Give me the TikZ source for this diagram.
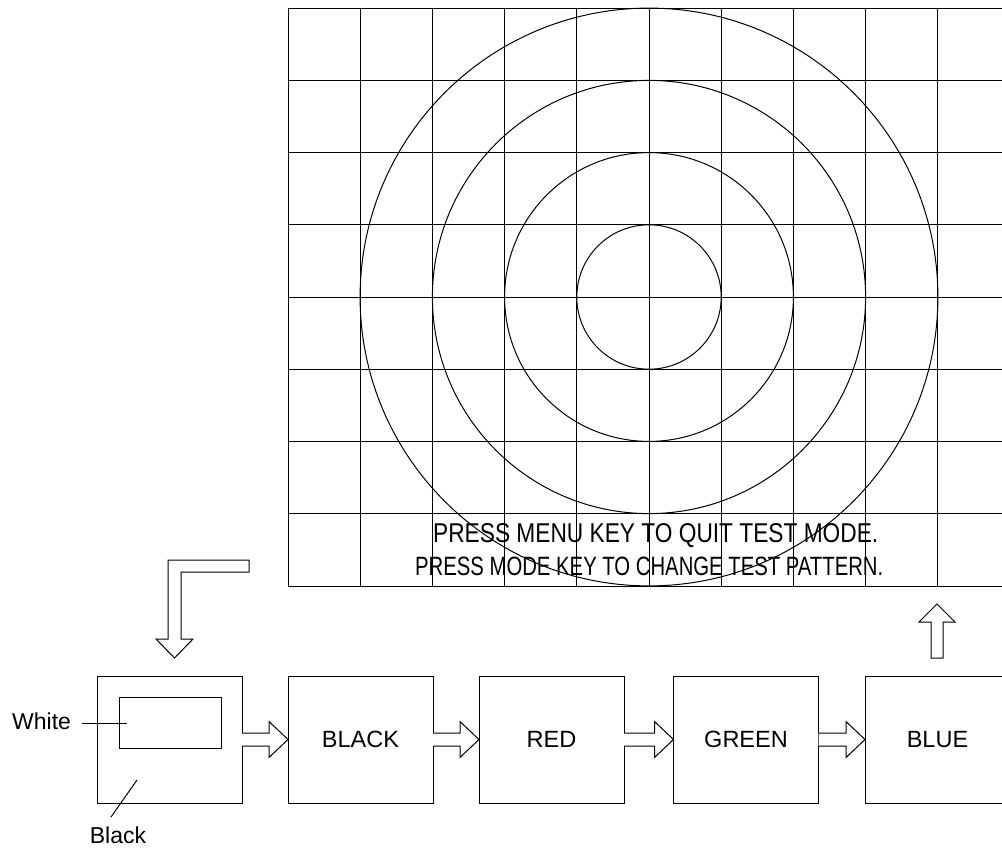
\documentclass[tikz,border=0pt]{standalone}
\usepackage{fontspec}
\setmainfont{Liberation Sans}
\usetikzlibrary{calc}
\tikzset{
  ln/.style={line width=1pt, black},
  boxnode/.style={ln, draw, rectangle, minimum width=145pt, minimum height=127pt, inner sep=0pt, outer sep=0pt, font=\fontsize{23.5}{27}\selectfont},
  lbl/.style={inner sep=0pt, outer sep=0pt, font=\fontsize{23}{27}\selectfont},
  barrow/.style={ln, draw, fill=white, line join=miter},
}
\begin{document}
\begin{tikzpicture}[x=1pt,y=-1pt]
\useasboundingbox (0,0) rectangle (1002,849);
\clip (0,0) rectangle (1002,849);
% screen grid
\coordinate (scr) at (649,297);
\foreach \k in {0,...,10} {
  \draw[ln] (288+72.2*\k,8) -- (288+72.2*\k,586);
}
\foreach \k in {0,...,8} {
  \draw[ln] (288,8+72.25*\k) -- (1012,8+72.25*\k);
}
\foreach \r in {72.2,144.4,216.6,288.9} {
  \draw[ln] (scr) circle[radius=\r];
}
\node[anchor=base west, inner sep=0pt] (msg1) at (433,542) {\resizebox{445pt}{19pt}{PRESS MENU KEY TO QUIT TEST MODE.}};
\node[anchor=base west, inner sep=0pt] (msg2) at (415,575) {\resizebox{468pt}{18.5pt}{PRESS MODE KEY TO CHANGE TEST PATTERN.}};
% boxes
\node[boxnode] (b1) at (169.5,739.5) {};
\node[boxnode] (b2) at (360.5,739.5) {BLACK};
\node[boxnode] (b3) at (551.5,739.5) {RED};
\node[boxnode] (b4) at (746,739.5) {GREEN};
\node[boxnode] (b5) at (937.5,739.5) {BLUE};
% inner rectangle
\node[ln, draw, rectangle, minimum width=102pt, minimum height=51pt, inner sep=0pt, outer sep=0pt] (inner) at (170,722.5) {};
% labels
\node[lbl, anchor=base east] (white) at (71,729) {White};
\coordinate (wa) at (82,723);
\coordinate (wb) at (127,723);
\draw[ln] (wa) -- (wb);
\node[lbl, anchor=base] (black) at (118,843) {Black};
\coordinate (ba) at (137,780);
\coordinate (bb) at (111,817);
\draw[ln] (ba) -- (bb);
% block arrows between boxes
\foreach \a/\b in {b1/b2,b2/b3,b3/b4,b4/b5} {
  \draw[barrow] ($(\a.east)+(0,-6.5)$) -- ($(\b.west)+(-19,-6.5)$) -- ($(\b.west)+(-19,-18)$) -- (\b.west) -- ($(\b.west)+(-19,18)$) -- ($(\b.west)+(-19,6.5)$) -- ($(\a.east)+(0,6.5)$);
}
% L-shaped arrow
\draw[barrow] (249,560) -- (168,560) -- (168,639) -- (156,639) -- (174.5,658) -- (193,639) -- (181,639) -- (181,572) -- (249,572) -- cycle;
% up arrow
\draw[barrow] (931,658) -- (931,622) -- (919,622) -- (937,604) -- (955,622) -- (943,622) -- (943,658) -- cycle;
\end{tikzpicture}
\end{document}
